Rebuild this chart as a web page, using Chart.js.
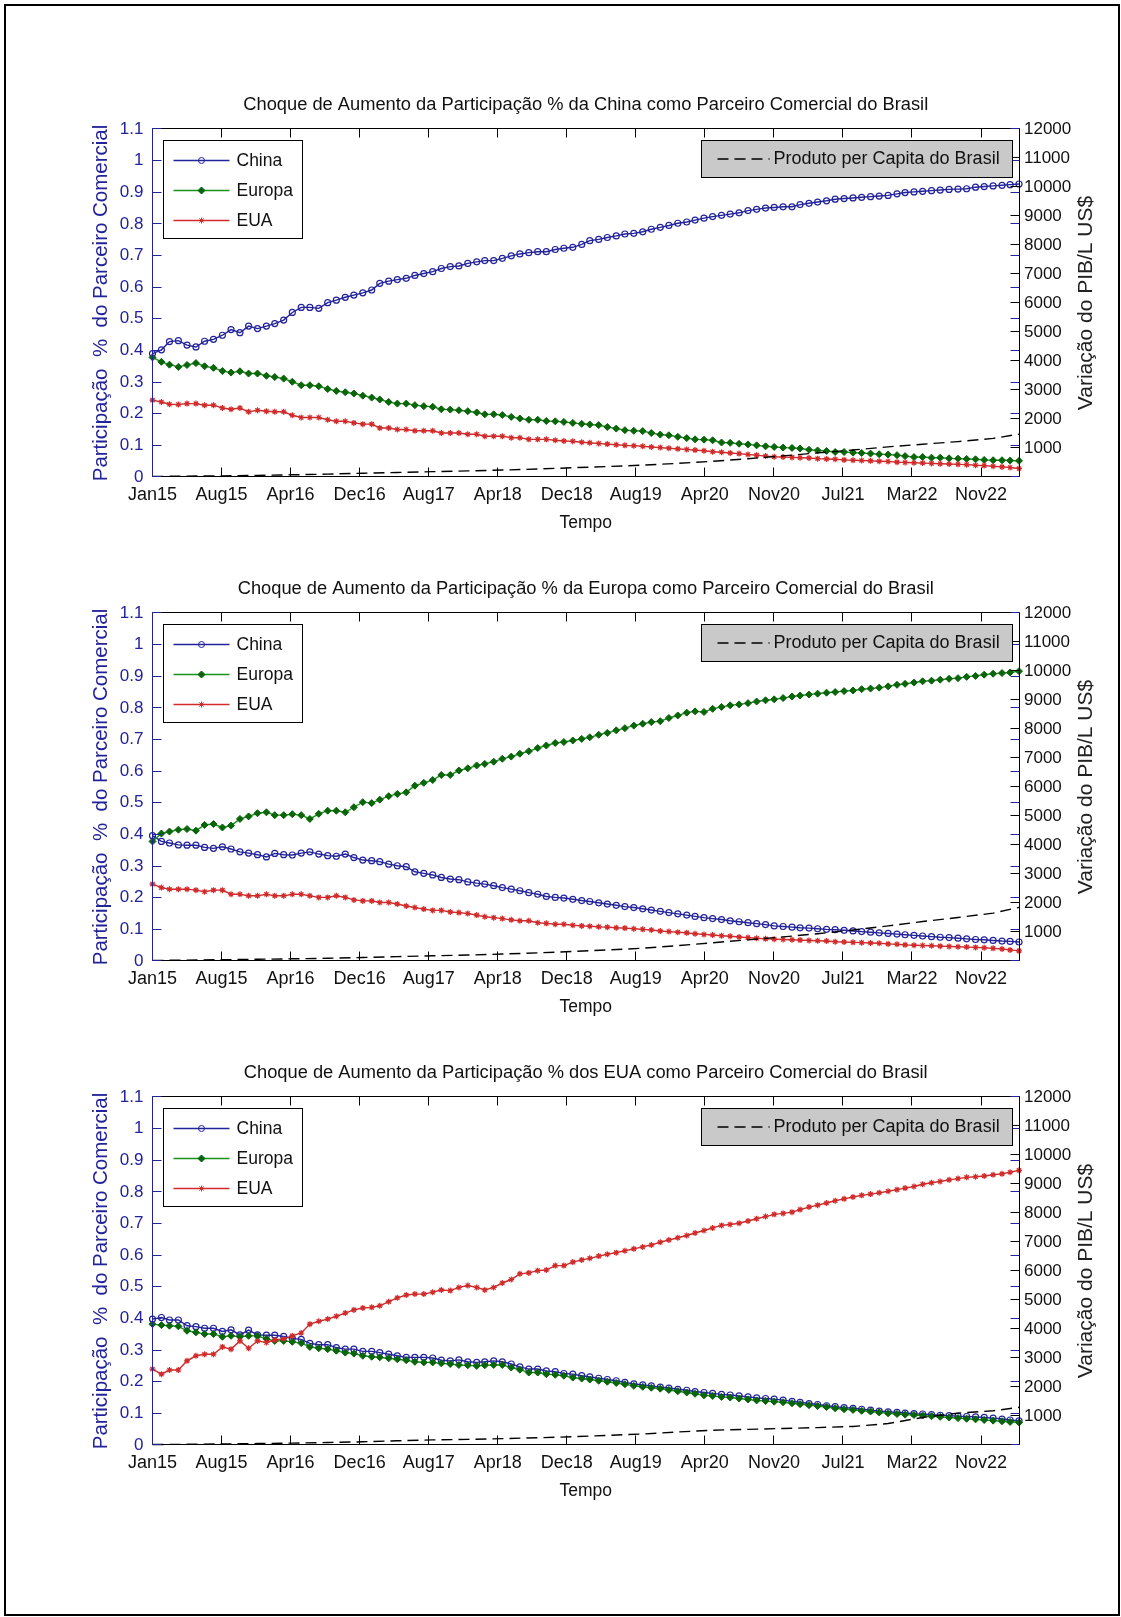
<!DOCTYPE html>
<html>
<head>
<meta charset="utf-8">
<script src="https://cdn.jsdelivr.net/npm/chart.js@4.4.1/dist/chart.umd.min.js"></script>
<style>
  html, body { margin: 0; padding: 0; background: #fff; }
  body { width: 1121px; height: 1617px; position: relative; overflow: hidden; }
  #frame { position: absolute; left: 4px; top: 4px; width: 1116px; height: 1612px; border: 2px solid #000; box-sizing: border-box; }
  canvas { position: absolute; left: 0; }
</style>
</head>
<body>
<div id="frame"></div>
<canvas id="c1" width="1121" height="480" style="top:69px"></canvas>
<canvas id="c2" width="1121" height="480" style="top:553px"></canvas>
<canvas id="c3" width="1121" height="480" style="top:1037px"></canvas>
<script>
const FONT = "'Liberation Sans', Arial, sans-serif";
Chart.defaults.font.family = FONT;
Chart.defaults.color = '#111';

// x axis: MATLAB datetick every 240 days from 1 Jan 2015
const tickLabels = ['Jan15', 'Aug15', 'Apr16', 'Dec16', 'Aug17', 'Apr18', 'Dec18', 'Aug19', 'Apr20', 'Nov20', 'Jul21', 'Mar22', 'Nov22'];
const tickStepDays = 240;

// monthly observations, Jan 2015 .. Apr 2023 (days since 1 Jan 2015)
const monthDays = [];
for (let i = 0; i < 100; i++) monthDays.push((Date.UTC(2015, i, 1) - Date.UTC(2015, 0, 1)) / 864e5);
// months where the per-capita line was read
const gdpMonths = [0, 4, 8, 12, 16, 20, 24, 28, 32, 36, 40, 44, 48, 52, 56, 60, 64, 68, 72, 76, 80, 84, 88, 92, 96, 99];

const titles = [
  'Choque de Aumento da Participação % da China como Parceiro Comercial do Brasil',
  'Choque de Aumento da Participação % da Europa como Parceiro Comercial do Brasil',
  'Choque de Aumento da Participação % dos EUA como Parceiro Comercial do Brasil'
];
const seriesNames = ['China', 'Europa', 'EUA'];
const gdpName = 'Produto per Capita do Brasil';
const leftTitle = 'Participação  %  do Parceiro Comercial';
const rightTitle = 'Variação do PIB/L US$';

// chart 1 - China shock
const china1 = [.390,.402,.428,.431,.417,.411,.429,.435,.448,.466, .456,.477,.469,.477,.485,.496,.520,.536,.536,.533,
  .551,.559,.568,.575,.582,.591,.612,.619,.624,.628, .637,.643,.649,.659,.665,.667,.675,.680,.684,.684,
  .691,.699,.705,.709,.712,.712,.719,.723,.726,.735, .747,.751,.757,.762,.768,.770,.775,.783,.789,.795,
  .802,.806,.812,.818,.823,.827,.831,.835,.842,.846, .850,.852,.854,.854,.861,.865,.869,.873,.878,.880,
  .882,.884,.886,.888,.890,.895,.899,.901,.903,.905, .907,.909,.910,.911,.916,.918,.920,.922,.924,.926];
const europa1 = [.378,.364,.355,.348,.354,.360,.350,.345,.335,.330, .334,.327,.327,.320,.316,.311,.301,.290,.290,.287,
  .278,.272,.268,.264,.257,.251,.245,.237,.232,.232, .227,.224,.222,.214,.213,.211,.208,.204,.198,.198,
  .196,.190,.185,.181,.181,.177,.176,.174,.171,.168, .166,.164,.158,.153,.148,.146,.145,.139,.134,.132,
  .127,.123,.119,.118,.116,.109,.108,.105,.103,.100, .097,.095,.093,.092,.090,.086,.084,.082,.079,.079,
  .077,.076,.074,.072,.071,.069,.066,.063,.063,.061, .061,.059,.058,.057,.056,.054,.053,.053,.052,.051];
const eua1 = [.243,.237,.230,.229,.232,.232,.227,.227,.218,.214, .218,.206,.211,.208,.206,.206,.195,.188,.188,.188,
  .181,.176,.176,.171,.167,.167,.155,.155,.150,.150, .146,.146,.146,.139,.139,.139,.135,.135,.129,.129,
  .129,.124,.124,.119,.119,.119,.116,.114,.113,.110, .108,.106,.104,.102,.100,.099,.097,.095,.093,.091,
  .089,.087,.085,.083,.080,.078,.076,.074,.071,.069, .066,.064,.063,.062,.061,.060,.058,.057,.056,.054,
  .053,.052,.051,.050,.049,.047,.046,.045,.044,.043, .042,.041,.040,.039,.037,.036,.034,.032,.030,.027];
const gdp1 = [20, 30, 40, 55, 75, 100, 130, 155, 185, 210, 240, 275, 320, 360, 410, 470, 540, 630, 730, 830, 930, 1040, 1130, 1220, 1330, 1480];

// chart 2 - Europe shock
const china2 = [.396,.378,.373,.367,.366,.366,.359,.356,.361,.354, .345,.341,.336,.329,.340,.336,.335,.341,.345,.338,
  .333,.331,.338,.327,.319,.317,.314,.306,.301,.298, .282,.277,.272,.264,.259,.257,.250,.246,.243,.238,
  .232,.227,.222,.216,.211,.204,.201,.199,.195,.191, .188,.184,.180,.176,.172,.169,.165,.161,.157,.153,
  .149,.145,.141,.137,.134,.131,.127,.124,.121,.118, .115,.111,.109,.107,.105,.104,.102,.100,.099,.097,
  .095,.093,.091,.089,.087,.085,.083,.081,.079,.077, .075,.074,.072,.070,.068,.067,.065,.063,.062,.060];
const europa2 = [.378,.403,.409,.415,.417,.412,.430,.433,.422,.428, .449,.457,.467,.470,.461,.461,.464,.461,.449,.465,
  .475,.475,.470,.486,.502,.499,.510,.521,.528,.533, .554,.563,.572,.588,.588,.602,.609,.618,.623,.630,
  .639,.646,.655,.663,.673,.681,.689,.692,.697,.702, .707,.715,.721,.729,.736,.744,.750,.755,.758,.768,
  .776,.785,.789,.787,.797,.803,.808,.811,.815,.820, .824,.827,.831,.836,.839,.842,.845,.848,.850,.853,
  .855,.859,.861,.864,.868,.873,.876,.880,.884,.886, .889,.892,.894,.898,.901,.905,.908,.910,.912,.916];
const eua2 = [.243,.232,.227,.227,.227,.224,.219,.224,.224,.211, .211,.206,.206,.211,.206,.206,.211,.211,.206,.201,
  .201,.206,.201,.193,.190,.190,.185,.185,.180,.174, .169,.164,.160,.160,.155,.153,.150,.145,.140,.137,
  .134,.130,.127,.127,.121,.119,.116,.116,.113,.111, .110,.108,.107,.105,.104,.102,.100,.098,.095,.093,
  .091,.089,.086,.084,.082,.080,.078,.076,.074,.072, .070,.069,.068,.067,.066,.065,.064,.063,.061,.060,
  .059,.058,.057,.056,.054,.053,.051,.050,.049,.048, .047,.046,.045,.044,.043,.042,.040,.038,.035,.032];
const gdp2 = [20, 30, 45, 60, 75, 95, 120, 150, 180, 205, 240, 280, 330, 380, 440, 530, 630, 730, 830, 940, 1070, 1210, 1360, 1500, 1650, 1850];

// chart 3 - USA shock
const china3 = [.398,.403,.395,.395,.377,.374,.369,.369,.359,.364, .348,.363,.348,.347,.347,.343,.337,.334,.321,.317,
  .317,.308,.303,.303,.296,.296,.292,.287,.282,.277, .277,.277,.275,.268,.266,.269,.263,.261,.263,.266,
  .263,.256,.247,.240,.240,.234,.232,.226,.224,.219, .215,.211,.207,.203,.198,.193,.190,.187,.183,.180,
  .176,.173,.169,.166,.163,.160,.158,.155,.152,.149, .147,.145,.142,.138,.135,.131,.128,.124,.121,.118,
  .116,.113,.110,.107,.105,.103,.101,.099,.098,.096, .094,.093,.091,.090,.089,.087,.085,.082,.079,.076];
const europa3 = [.382,.379,.377,.375,.361,.356,.351,.351,.342,.345, .342,.345,.345,.335,.329,.329,.326,.322,.310,.306,
  .303,.298,.292,.289,.282,.279,.277,.274,.271,.268, .263,.261,.261,.258,.256,.253,.252,.250,.252,.253,
  .253,.245,.238,.229,.229,.224,.222,.219,.213,.210, .207,.203,.200,.196,.192,.187,.184,.181,.178,.174,
  .170,.166,.162,.157,.155,.152,.150,.147,.144,.141, .139,.137,.135,.132,.129,.126,.123,.120,.116,.113,
  .111,.108,.106,.103,.100,.098,.096,.095,.093,.091, .089,.087,.085,.083,.081,.079,.077,.075,.073,.071];
const eua3 = [.240,.224,.237,.237,.266,.282,.287,.287,.310,.303, .329,.306,.329,.324,.332,.335,.345,.354,.382,.391,
  .398,.407,.417,.427,.433,.435,.440,.453,.465,.474, .477,.477,.483,.490,.488,.498,.504,.498,.490,.498,
  .512,.523,.541,.544,.551,.553,.567,.567,.578,.585, .590,.597,.603,.608,.614,.620,.626,.632,.641,.648,
  .655,.662,.670,.678,.686,.694,.697,.701,.708,.715, .722,.729,.732,.736,.744,.752,.758,.765,.772,.778,
  .784,.789,.793,.797,.802,.807,.812,.817,.824,.829, .833,.838,.842,.846,.848,.850,.854,.857,.862,.868];
const gdp3 = [15, 25, 35, 50, 65, 85, 110, 145, 175, 195, 220, 250, 285, 330, 380, 450, 510, 540, 570, 600, 640, 740, 950, 1100, 1180, 1300];

const colChina = '#22229a';
const colEuropa = '#17931a';
const colEuropaMark = '#0a640a';
const colEua = '#d02a2a';

const matlabAxes = {
  id: 'matlabAxes',
  afterDatasetsDraw(chart) {
    const { ctx, chartArea: a } = chart;
    const { x, yL, yR } = chart.scales;
    const snap = v => Math.round(v - 0.5) + 0.5;
    const L = snap(a.left), R = snap(a.right), T = snap(a.top), B = snap(a.bottom);
    const tl = 9;
    ctx.save();
    ctx.lineWidth = 1;
    ctx.strokeStyle = '#000';
    ctx.beginPath();
    x.ticks.forEach(t => {
      const px = snap(x.getPixelForValue(t.value));
      ctx.moveTo(px, B); ctx.lineTo(px, B - tl);
      ctx.moveTo(px, T); ctx.lineTo(px, T + tl);
    });
    yR.ticks.forEach(t => {
      const py = snap(yR.getPixelForValue(t.value));
      ctx.moveTo(R, py); ctx.lineTo(R - tl, py);
    });
    ctx.moveTo(L, T); ctx.lineTo(R, T); ctx.lineTo(R, B); ctx.lineTo(L, B);
    ctx.stroke();
    ctx.strokeStyle = colChina;
    ctx.beginPath();
    yL.ticks.forEach(t => {
      const py = snap(yL.getPixelForValue(t.value));
      ctx.moveTo(L, py); ctx.lineTo(L + tl, py);
      ctx.moveTo(R, py); ctx.lineTo(R - tl, py);
    });
    ctx.moveTo(L, T); ctx.lineTo(L, B);
    ctx.stroke();
    ctx.restore();
  },
  afterDraw(chart) {
    const { ctx, chartArea: a } = chart;
    const sets = chart.data.datasets;
    ctx.save();
    ctx.lineWidth = 1;

    // series legend, upper left
    const bx = Math.round(a.left + 10) + 0.5, by = Math.round(a.top + 11) + 0.5;
    ctx.fillStyle = '#fff';
    ctx.fillRect(bx, by, 139, 98);
    ctx.strokeStyle = '#000';
    ctx.strokeRect(bx, by, 139, 98);
    ctx.font = '17.5px ' + FONT;
    ctx.textBaseline = 'middle';
    ctx.textAlign = 'left';
    for (let i = 0; i < 3; i++) {
      const ds = sets[i];
      const y = Math.round(a.top + 31 + 30 * i) + 0.5;
      ctx.lineWidth = ds.borderWidth;
      ctx.strokeStyle = ds.borderColor;
      ctx.beginPath();
      ctx.moveTo(a.left + 21, y); ctx.lineTo(a.left + 77, y);
      ctx.stroke();
      ctx.lineWidth = 1;
      ctx.fillStyle = ds.pointBackgroundColor;
      ctx.strokeStyle = ds.pointBorderColor;
      Chart.helpers.drawPoint(ctx, { pointStyle: ds.pointStyle, radius: ds.pointRadius, borderWidth: 1, rotation: 0 }, a.left + 49, y);
      ctx.fillStyle = '#111';
      ctx.fillText(ds.label, a.left + 84, y + 1);
    }

    // per-capita legend, upper right
    const gx = Math.round(a.right - 318) + 0.5, gy = Math.round(a.top + 11) + 0.5;
    ctx.fillStyle = '#c9c9c9';
    ctx.fillRect(gx, gy, 311, 37);
    ctx.strokeStyle = '#000';
    ctx.strokeRect(gx, gy, 311, 37);
    const gds = sets[3];
    ctx.lineWidth = gds.borderWidth;
    ctx.setLineDash(gds.borderDash);
    ctx.beginPath();
    ctx.moveTo(gx + 16, gy + 18.5); ctx.lineTo(gx + 68, gy + 18.5);
    ctx.stroke();
    ctx.setLineDash([]);
    ctx.fillStyle = '#111';
    ctx.font = '18px ' + FONT;
    ctx.fillText(gds.label, gx + 72, gy + 19);

    // right axis title, reading upward like MATLAB
    ctx.translate(1086, (a.top + a.bottom) / 2);
    ctx.rotate(-Math.PI / 2);
    ctx.textAlign = 'center';
    ctx.fillStyle = '#222';
    ctx.font = '21px ' + FONT;
    ctx.fillText(rightTitle, 0, 0);
    ctx.restore();
  }
};

function makeChart(id, title, china, europa, eua, gdp) {
  const pts = arr => arr.map((v, i) => ({ x: monthDays[i], y: v }));
  const noGrid = { display: false, drawTicks: false };
  new Chart(document.getElementById(id), {
    type: 'line',
    data: {
      datasets: [
        { label: seriesNames[0], data: pts(china), yAxisID: 'yL', order: 4,
          borderColor: colChina, borderWidth: 1.4, pointStyle: 'circle', pointRadius: 3,
          pointBorderColor: colChina, pointBackgroundColor: 'rgba(0,0,0,0)', pointBorderWidth: 1.2 },
        { label: seriesNames[1], data: pts(europa), yAxisID: 'yL', order: 3,
          borderColor: colEuropa, borderWidth: 1.4, pointStyle: 'rectRot', pointRadius: 3.5,
          pointBorderColor: colEuropaMark, pointBackgroundColor: colEuropaMark, pointBorderWidth: 1 },
        { label: seriesNames[2], data: pts(eua), yAxisID: 'yL', order: 2,
          borderColor: colEua, borderWidth: 1.4, pointStyle: 'star', pointRadius: 3,
          pointBorderColor: colEua, pointBackgroundColor: colEua, pointBorderWidth: 1.2 },
        { label: gdpName, data: gdp.map((v, i) => ({ x: monthDays[gdpMonths[i]], y: v })), yAxisID: 'yR', order: 1,
          borderColor: '#000', borderWidth: 1.4, borderDash: [11, 6], pointRadius: 0 }
      ]
    },
    options: {
      responsive: false,
      devicePixelRatio: 1,
      animation: false,
      events: [],
      clip: false,
      layout: { padding: { left: 0, right: 0, top: 0, bottom: 12 } },
      elements: { line: { tension: 0 } },
      plugins: {
        legend: { display: false },
        tooltip: { enabled: false },
        title: { display: true, text: title, color: '#111', fullSize: false,
                 font: { size: 18.3, weight: 'normal' }, padding: { top: 25, bottom: 13 } }
      },
      scales: {
        x: {
          type: 'linear', min: 0, max: monthDays[monthDays.length - 1],
          grid: noGrid, border: { display: false },
          afterBuildTicks: s => { s.ticks = tickLabels.map((_, i) => ({ value: i * tickStepDays })); },
          afterFit: s => { s.height = 60; },
          ticks: { autoSkip: false, maxRotation: 0, padding: 7.5, color: '#111', font: { size: 18 },
                   callback: v => tickLabels[Math.round(v / tickStepDays)] },
          title: { display: true, text: 'Tempo', color: '#111', font: { size: 17.5 }, padding: { top: 0, bottom: 3.2 } }
        },
        yL: {
          position: 'left', min: 0, max: 1.1,
          grid: noGrid, border: { display: false },
          afterFit: s => { s.width = 152.5; },
          ticks: { stepSize: 0.1, padding: 9, color: colChina, font: { size: 17 },
                   callback: v => String(Math.round(v * 10) / 10) },
          title: { display: true, text: leftTitle, color: colChina,
                   font: { size: 20.5 }, padding: { top: 89, bottom: 0 } }
        },
        yR: {
          position: 'right', min: 0, max: 12000,
          grid: noGrid, border: { display: false },
          afterFit: s => { s.width = 1121 - 1019; },
          ticks: { stepSize: 1000, padding: 5, color: '#111', font: { size: 17 },
                   callback: v => (v === 0 ? '' : String(v)) }
        }
      }
    },
    plugins: [matlabAxes]
  });
}

makeChart('c1', titles[0], china1, europa1, eua1, gdp1);
makeChart('c2', titles[1], china2, europa2, eua2, gdp2);
makeChart('c3', titles[2], china3, europa3, eua3, gdp3);
</script>
</body>
</html>
